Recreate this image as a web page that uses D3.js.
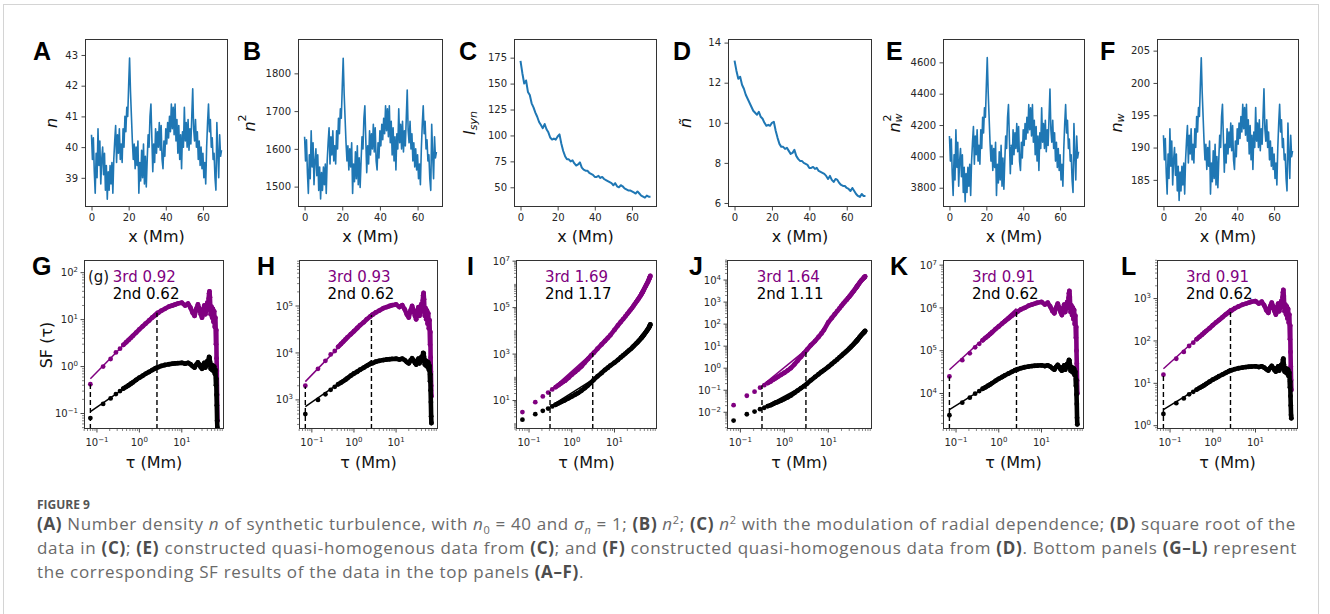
<!DOCTYPE html>
<html><head><meta charset="utf-8">
<script src="https://cdn.jsdelivr.net/npm/d3@7"></script>
<style>
body{margin:0;background:#fff;}
svg text{font-family:"DejaVu Sans",sans-serif;}
</style></head><body><svg id="c" width="1330" height="614"></svg>
<script>
// ---------------- DATA ----------------
const xStepNoisy = 0.5;   // Mm between samples of the noisy series
const xStepSmooth = 1.0;  // Mm between samples of the smooth series
const nA = [40.4,39.6,40.3,39.2,38.5,39.8,39.0,40.6,39.4,40.2,38.8,39.6,40.0,39.1,39.8,38.6,39.4,38.3,39.2,38.6,39.4,38.8,39.5,38.5,39.6,40.2,40.7,39.5,40.4,39.8,40.6,39.6,40.1,39.5,40.6,40.0,41.0,40.5,41.3,41.0,42.0,42.9,41.8,41.0,40.2,39.6,40.1,39.3,40.0,39.4,40.2,38.5,39.5,38.9,39.9,39.0,40.1,38.8,39.7,38.7,39.6,40.4,40.0,41.0,41.4,40.3,39.2,40.1,39.5,40.6,39.8,40.5,40.0,40.8,39.9,40.7,39.6,39.3,40.2,39.7,40.6,40.1,40.8,40.3,41.0,40.5,41.4,40.6,41.3,40.4,41.4,40.2,40.9,39.8,40.7,39.6,40.4,39.3,40.5,40.0,41.3,40.2,40.8,40.0,40.9,39.9,40.6,40.1,41.0,41.9,40.6,40.2,40.9,40.0,40.5,39.6,40.2,39.4,40.0,39.3,39.8,39.0,39.5,38.8,40.0,40.8,41.4,40.5,40.9,40.0,40.3,39.6,39.8,39.0,38.6,40.8,39.8,39.0,40.4,39.7,39.9];
const n2B = [1632,1568,1624,1537,1482,1584,1521,1648,1552,1616,1505,1568,1600,1529,1584,1490,1552,1467,1537,1490,1552,1505,1560,1482,1568,1616,1656,1560,1632,1584,1648,1568,1608,1560,1648,1600,1681,1640,1706,1681,1764,1840,1747,1681,1616,1568,1608,1544,1600,1552,1616,1482,1560,1513,1592,1521,1608,1505,1576,1498,1568,1632,1600,1681,1714,1624,1537,1608,1560,1648,1584,1640,1600,1665,1592,1656,1568,1544,1616,1576,1648,1608,1665,1624,1681,1640,1714,1648,1706,1632,1714,1616,1673,1584,1656,1568,1632,1544,1640,1600,1706,1616,1665,1600,1673,1592,1648,1608,1681,1756,1648,1616,1673,1600,1640,1568,1616,1552,1600,1544,1584,1521,1560,1505,1600,1665,1714,1640,1673,1600,1624,1568,1584,1521,1490,1665,1584,1521,1632,1576,1592];
const IsynC = [172,160,150,153,142,139,131,127,122,118,113,110,107,111,106,103,98,96,97,96,99,101,92,85,80,77,77,75,76,73,71,72,74,69,67,66,66,64,63,62,60,60,61,59,60,58,57,56,55,54,52,54,51,50,52,51,49,48,47,47,46,45,44,46,44,42,41,40,42,41,41];
const nTildeD = [13.1,12.6,12.2,12.3,11.9,11.7,11.4,11.2,11.0,10.8,10.6,10.5,10.4,10.55,10.3,10.2,10.0,9.85,9.9,9.85,10.0,10.05,9.6,9.25,8.95,8.8,8.8,8.7,8.75,8.6,8.45,8.5,8.65,8.35,8.2,8.1,8.1,8.0,7.95,7.9,7.75,7.75,7.8,7.7,7.75,7.6,7.55,7.5,7.45,7.35,7.2,7.35,7.15,7.05,7.2,7.15,7.0,6.9,6.85,6.85,6.75,6.7,6.6,6.75,6.6,6.45,6.35,6.3,6.45,6.35,6.35];
const nw2E = [4130,3970,4110,3890,3750,4010,3850,4170,3930,4090,3810,3970,4050,3870,4010,3770,3930,3710,3890,3770,3930,3810,3950,3750,3970,4090,4190,3950,4130,4010,4170,3970,4070,3950,4170,4050,4250,4150,4310,4250,4450,4630,4410,4250,4090,3970,4070,3910,4050,3930,4090,3750,3950,3830,4030,3850,4070,3810,3990,3790,3970,4130,4050,4250,4330,4110,3890,4070,3950,4170,4010,4150,4050,4210,4030,4190,3970,3910,4090,3990,4170,4070,4210,4110,4250,4150,4330,4170,4310,4130,4330,4090,4230,4010,4190,3970,4130,3910,4150,4050,4310,4090,4210,4050,4230,4030,4170,4070,4250,4430,4170,4090,4230,4050,4150,3970,4090,3930,4050,3910,4010,3850,3950,3810,4050,4210,4330,4150,4230,4050,4110,3970,4010,3850,3770,4210,4010,3850,4130,3990,4030];
const nwF = [191.9,188.1,191.4,186.2,182.8,189.0,185.2,192.9,187.1,191.0,184.2,188.1,190.0,185.7,189.0,183.3,187.1,181.8,186.2,183.3,187.1,184.2,187.6,182.8,188.1,191.0,193.4,187.6,191.9,189.0,192.9,188.1,190.5,187.6,192.9,190.0,194.8,192.4,196.2,194.8,199.6,203.9,198.6,194.8,191.0,188.1,190.5,186.6,190.0,187.1,191.0,182.8,187.6,184.7,189.5,185.2,190.5,184.2,188.6,183.8,188.1,191.9,190.0,194.8,196.7,191.4,186.2,190.5,187.6,192.9,189.0,192.4,190.0,193.8,189.5,193.4,188.1,186.6,191.0,188.6,192.9,190.5,193.8,191.4,194.8,192.4,196.7,192.9,196.2,191.9,196.7,191.0,194.3,189.0,193.4,188.1,191.9,186.6,192.4,190.0,196.2,191.0,193.8,190.0,194.3,189.5,192.9,190.5,194.8,199.1,192.9,191.0,194.3,190.0,192.4,188.1,191.0,187.1,190.0,186.6,189.0,185.2,187.6,184.2,190.0,193.8,196.7,192.4,194.3,190.0,191.4,188.1,189.0,185.2,183.3,193.8,189.0,185.2,191.9,188.6,189.5];

const xTicksTop = [0,20,40,60];
const yTicksA = [39,40,41,42,43];
const yTicksB = [1500,1600,1700,1800];
const yTicksC = [50,75,100,125,150,175];
const yTicksD = [6,8,10,12,14];
const yTicksE = [3800,4000,4200,4400,4600];
const yTicksF = [185,190,195,200,205];

// structure-function panels: lag tau (Mm) and SF values
const tauSF = [0.07,0.14,0.21,0.28,0.35,0.42,0.49,0.56,0.63,0.7,0.84,1.0,1.2,1.4,1.7,2.0,2.4,2.8,3.3,4,5,6,7,8,10,12,14,16,18,20,22,24,26,28,30,32,34,36,38,40,42,43,44,45,46,47,48,50,52,54,56,58,60,62,64,65,66,67,68,69];
const sfG3 = [0.42,1.0,1.45,2.0,2.4,2.9,3.3,3.7,4.1,4.5,5.3,6.2,7.2,8.2,9.6,11,12.5,14,15.5,17,19,20,21,22,23,20,22,18,14,12,17,21,17,13,11,16,20,13,17,23,17,28,36,40,30,19,13,19,11,17,9,15,7,11,3,6,1.5,0.8,0.25,0.07];
const sfG2 = [0.08,0.16,0.21,0.26,0.3,0.34,0.37,0.4,0.43,0.46,0.52,0.58,0.64,0.7,0.77,0.84,0.92,0.97,1.03,1.08,1.12,1.15,1.17,1.18,1.2,1.15,1.2,1.12,1.02,0.95,1.1,1.22,1.1,0.97,0.9,1.08,1.2,0.95,1.1,1.3,1.15,1.4,1.6,1.55,1.3,1.05,0.9,1.1,0.85,1.05,0.8,1.0,0.7,0.85,0.4,0.55,0.25,0.15,0.07,0.05];
const sfH3 = [2000,4600,6800,9300,11000,13500,15500,17500,19500,21500,25000,29000,34000,39000,45000,52000,59000,66000,73000,80000,90000,95000,100000,104000,108000,95000,104000,85000,66000,57000,80000,100000,80000,62000,52000,76000,95000,62000,80000,110000,80000,130000,170000,190000,140000,90000,62000,90000,52000,80000,42000,70000,33000,50000,15000,28000,8000,4000,2000,1200];
const sfH2 = [500,1000,1320,1640,1900,2150,2330,2520,2700,2900,3280,3650,4000,4400,4850,5300,5800,6100,6500,6800,7050,7250,7350,7450,7550,7250,7550,7050,6400,6000,6900,7700,6900,6100,5650,6800,7550,6000,6900,8200,7250,8800,10000,9800,8200,6600,5650,6900,5350,6600,5000,6300,4400,5350,2500,3500,1600,900,450,320];
const sfI3 = [3.2,8.5,15,22,30,38,46,55,64,72,95,130,170,215,300,420,620,850,1150,1700,2600,3700,5000,6500,11000,17000,24000,32000,42000,54000,67000,82000,98000,120000,145000,170000,200000,230000,270000,310000,360000,390000,420000,450000,480000,520000,560000,650000,750000,860000,980000,1100000,1250000,1420000,1620000,1750000,1880000,2000000,2150000,2300000];
const sfI2 = [1.5,2.6,3.6,4.5,5.6,6.6,7.6,8.6,9.6,10.5,12.5,15,18,21,27,34,45,58,80,110,155,210,260,320,430,560,720,880,1050,1250,1450,1650,1900,2200,2500,2800,3100,3500,3900,4300,4800,5000,5300,5600,5900,6200,6500,7200,7900,8700,9500,10500,11500,12500,14000,14800,15500,16500,17500,19000];
const sfJ3 = [0.021,0.056,0.086,0.13,0.17,0.21,0.25,0.3,0.35,0.4,0.5,0.62,0.8,1.0,1.5,2.2,3.3,4.8,7,11,17,26,38,55,120,190,280,390,520,680,860,1050,1250,1500,1750,2050,2400,2800,3200,3700,4200,4500,4800,5100,5400,5800,6100,6900,7700,8500,9300,10000,10800,11600,12400,12800,13200,13600,14000,14500];
const sfJ2 = [0.0042,0.0081,0.0107,0.0138,0.016,0.019,0.021,0.024,0.027,0.029,0.034,0.04,0.048,0.057,0.075,0.095,0.125,0.155,0.2,0.28,0.4,0.53,0.68,0.82,1.15,1.55,2.0,2.5,3.1,3.7,4.4,5.1,5.9,6.8,7.8,8.8,10,11.2,12.5,14,15.5,16.3,17.2,18,19,20,21,23.5,26,28.5,31,33.5,36,38.5,41,42.5,44,45.5,47,49];
const sfK3 = [25000,60000,87000,120000,145000,175000,200000,222000,246000,270000,320000,370000,430000,490000,570000,650000,740000,830000,920000,1000000,1130000,1200000,1260000,1320000,1380000,1200000,1320000,1080000,850000,750000,1020000,1260000,1020000,800000,680000,960000,1200000,800000,1020000,1380000,1020000,1700000,2200000,2500000,1800000,1150000,800000,1150000,680000,1020000,550000,900000,420000,660000,200000,360000,100000,50000,20000,10000];
const sfK2 = [3100,6100,8000,9900,11400,12900,14000,15200,16300,17500,19800,22000,24300,26600,29300,31900,35000,36900,39100,41000,42600,43700,44500,44800,45600,43700,45600,42600,38800,36100,41800,46400,41800,36900,34200,41000,45600,36100,41800,49400,43700,53200,60800,58900,49400,39900,34200,41800,32300,39900,30400,38000,26600,32300,15000,21000,9500,5700,2700,1900];
const sfL3 = [16,38,55,76,91,110,125,140,156,171,200,235,275,310,365,420,475,530,590,650,720,760,800,840,870,760,840,690,530,460,650,800,650,500,420,610,760,500,650,870,650,1060,1400,1600,1150,720,500,720,420,650,340,570,270,420,110,230,55,25,12,7];
const sfL2 = [1.9,3.4,4.4,5.5,6.3,7.1,7.8,8.4,9.0,9.7,10.9,12.2,13.4,14.7,16.2,17.6,19.3,20.4,21.6,22.7,23.5,24.2,24.6,24.8,25.2,24.2,25.2,23.5,21.4,20.0,23.1,25.6,23.1,20.4,18.9,22.7,25.2,20.0,23.1,27.3,24.2,29.4,36,38,28,22,18.9,23.1,17.9,22,16.8,21,14.7,17.9,8,11,5,3,1.8,1.5];

// fit ranges (tau) and fitted values at their ends
const fitTauEdge = [0.07, 2.6];
const fitTauMid = [0.31, 3.1];
const fitG3 = [0.55, 15.3], fitG2 = [0.11, 1.03];
const fitH3 = [2450, 70000], fitH2 = [720, 6800];
const fitI3 = [26, 1150],   fitI2 = [5.5, 80];
const fitJ3 = [0.16, 6.8],  fitJ2 = [0.015, 0.18];
const fitK3 = [36000, 960000], fitK2 = [4200, 39500];
const fitL3 = [22, 590],    fitL2 = [2.4, 22.6];
// top of the dashed markers (value of 3rd-order SF)
const dashG = [0.42, 14], dashH = [1920, 64000], dashI = [29, 1120];
const dashJ = [0.17, 6.7], dashK = [25000, 800000], dashL = [16, 490];

const exponents3 = ["3rd 0.92","3rd 0.93","3rd 1.69","3rd 1.64","3rd 0.91","3rd 0.91"];
const exponents2 = ["2nd 0.62","2nd 0.62","2nd 1.17","2nd 1.11","2nd 0.62","2nd 0.62"];
const xTicksSF = [-1, 0, 1];  // decades
const yTicksG = [-1,0,1,2], yTicksH = [3,4,5], yTicksI = [1,3,5,7];
const yTicksJ = [-2,-1,0,1,2,3,4], yTicksK = [4,5,6,7], yTicksL = [0,1,2,3];

// ---------------- DRAW ----------------
const svg = d3.select('#c');
svg.append('rect').attr('width',1330).attr('height',614).attr('fill','#fff');
svg.append('rect').attr('x',3.5).attr('y',4.5).attr('width',1315).attr('height',700)
  .attr('fill','none').attr('stroke','#d4d4d4').attr('stroke-width',1);

const BLUE = '#1f77b4', PURPLE = '#800080', FRAME = '#333';

function addParts(text, parts){
  parts.forEach(p=>{
    const ts = text.append('tspan').text(p.t);
    if(p.i) ts.attr('font-style','italic');
    if(p.b) ts.attr('font-weight','bold');
    if(p.fs) ts.attr('font-size',p.fs);
    if(p.bs !== undefined) ts.attr('baseline-shift',p.bs);
    if(p.dx) ts.attr('dx',p.dx);
    if(p.fill) ts.attr('fill',p.fill);
  });
}
function letter(t,x,y){
  svg.append('text').attr('x',x).attr('y',y).text(t)
    .style('font-family','"Liberation Sans",Arial,sans-serif').attr('font-weight','bold')
    .attr('font-size',25).attr('fill','#000');
}
function styleAxis(a){
  a.select('.domain').remove();
  a.selectAll('line').attr('stroke',FRAME).attr('stroke-width',0.9);
  a.selectAll('text').attr('font-size',10).attr('fill','#262626').style('font-family','"DejaVu Sans",sans-serif');
}

// top row
const TOP = 39, BOT = 207;
const xDomTop = [-3.5, 73.5];
const topCfg = [
  {L:'A', data:nA, step:xStepNoisy, left:85, w:143, dom:[38.05,43.52], ticks:yTicksA, lab:[{t:'n',i:1}], labX:52, letX:33, sw:1.6},
  {L:'B', data:n2B, step:xStepNoisy, left:298, w:145, dom:[1446,1891], ticks:yTicksB, lab:[{t:'n',i:1},{t:'2',fs:11,bs:7}], labX:250, letX:243, sw:1.6},
  {L:'C', data:IsynC, step:xStepSmooth, left:514, w:143, dom:[31,193], ticks:yTicksC, lab:[{t:'I',i:1},{t:'syn',i:1,fs:11,bs:-4}], labX:470, letX:459, sw:2},
  {L:'D', data:nTildeD, step:xStepSmooth, left:728, w:144, dom:[5.8,14.18], ticks:yTicksD, lab:[{t:'ñ',i:1}], labX:686, letX:673, sw:2},
  {L:'E', data:nw2E, step:xStepNoisy, left:943, w:142, dom:[3677,4749], ticks:yTicksE, lab:[{t:'n',i:1},{t:'w',i:1,fs:11,bs:-4},{t:'2',fs:11,bs:7,dx:-8}], labX:895, letX:886, sw:1.6},
  {L:'F', data:nwF, step:xStepNoisy, left:1157, w:142, dom:[180.8,206.8], ticks:yTicksF, lab:[{t:'n',i:1},{t:'w',i:1,fs:11,bs:-4}], labX:1117, letX:1100, sw:1.6}
];
topCfg.forEach(c=>{
  const x = d3.scaleLinear().domain(xDomTop).range([c.left, c.left+c.w]);
  const y = d3.scaleLinear().domain(c.dom).range([BOT, TOP]);
  const g = svg.append('g');
  const cid = 'clip'+c.L;
  g.append('clipPath').attr('id',cid).append('rect').attr('x',c.left).attr('y',TOP).attr('width',c.w).attr('height',BOT-TOP);
  g.append('path').datum(c.data).attr('clip-path',`url(#${cid})`)
    .attr('d', d3.line().x((d,i)=>x(i*c.step)).y(d=>y(d)))
    .attr('fill','none').attr('stroke',BLUE).attr('stroke-width',c.sw).attr('stroke-linejoin','round');
  g.append('rect').attr('x',c.left+0.5).attr('y',TOP+0.5).attr('width',c.w-1).attr('height',BOT-TOP-1)
    .attr('fill','none').attr('stroke',FRAME).attr('stroke-width',1);
  const ax = g.append('g').attr('transform',`translate(0,${BOT})`)
    .call(d3.axisBottom(x).tickValues(xTicksTop).tickSize(3.5).tickPadding(3.5).tickFormat(d3.format('d')));
  styleAxis(ax);
  const ay = g.append('g').attr('transform',`translate(${c.left},0)`)
    .call(d3.axisLeft(y).tickValues(c.ticks).tickSize(3.5).tickPadding(3.5).tickFormat(d3.format('d')));
  styleAxis(ay);
  g.append('text').attr('x',c.left+c.w/2).attr('y',242).attr('text-anchor','middle').attr('font-size',16).attr('fill','#111').text('x (Mm)');
  const yl = g.append('text').attr('transform',`translate(${c.labX},${(TOP+BOT)/2}) rotate(-90)`)
    .attr('text-anchor','middle').attr('dominant-baseline','middle').attr('font-size',16).attr('fill','#111');
  addParts(yl, c.lab);
  letter(c.L, c.letX, 60);
});

// bottom row
const STOP = 260, SBOT = 429;
const xDomSF = [Math.pow(10,-1.305), Math.pow(10,1.995)];
const botCfg = [
  {L:'G', left:84, w:140, yd:[-1.33,2.27], ticks:yTicksG, s3:sfG3, s2:sfG2, f3:fitG3, f2:fitG2, ft:fitTauEdge, dash:dashG, letX:32},
  {L:'H', left:299, w:139, yd:[2.38,5.98], ticks:yTicksH, s3:sfH3, s2:sfH2, f3:fitH3, f2:fitH2, ft:fitTauEdge, dash:dashH, letX:257},
  {L:'I', left:516, w:141, yd:[-0.225,7.05], ticks:yTicksI, s3:sfI3, s2:sfI2, f3:fitI3, f2:fitI2, ft:fitTauMid, dash:dashI, letX:467},
  {L:'J', left:727, w:145, yd:[-2.76,4.91], ticks:yTicksJ, s3:sfJ3, s2:sfJ2, f3:fitJ3, f2:fitJ2, ft:fitTauMid, dash:dashJ, letX:689},
  {L:'K', left:943, w:141, yd:[3.17,7.12], ticks:yTicksK, s3:sfK3, s2:sfK2, f3:fitK3, f2:fitK2, ft:fitTauEdge, dash:dashK, letX:890},
  {L:'L', left:1157, w:141, yd:[-0.078,3.91], ticks:yTicksL, s3:sfL3, s2:sfL2, f3:fitL3, f2:fitL2, ft:fitTauEdge, dash:dashL, letX:1121}
];
function supLabel(g, x, y, anchor, exp){
  const t = g.append('text').attr('x',x).attr('y',y).attr('text-anchor',anchor).attr('font-size',10).attr('fill','#262626');
  t.append('tspan').text('10');
  t.append('tspan').attr('font-size',7).attr('baseline-shift',4.5).text(String(exp).replace('-','\u2212'));
}
botCfg.forEach((c,k)=>{
  const x = d3.scaleLog().domain(xDomSF).range([c.left, c.left+c.w]);
  const y = d3.scaleLog().domain([Math.pow(10,c.yd[0]), Math.pow(10,c.yd[1])]).range([SBOT, STOP]);
  const g = svg.append('g');
  const cid = 'clip'+c.L;
  g.append('clipPath').attr('id',cid).append('rect').attr('x',c.left).attr('y',STOP).attr('width',c.w).attr('height',SBOT-STOP);
  const pg = g.append('g').attr('clip-path',`url(#${cid})`);
  [[c.s3,PURPLE],[c.s2,'#000']].forEach(([vals,col])=>{
    const pts = tauSF.map((t,i)=>[t, vals[i]]);
    const dense = pts.filter(p=>p[0] >= 0.42);
    pg.append('path').datum(dense)
      .attr('d', d3.line().x(p=>x(p[0])).y(p=>y(p[1])))
      .attr('fill','none').attr('stroke',col).attr('stroke-width',4.6)
      .attr('stroke-linejoin','round').attr('stroke-linecap','round');
    pg.selectAll(null).data(pts).enter().append('circle')
      .attr('cx',p=>x(p[0])).attr('cy',p=>y(p[1])).attr('r',2.4).attr('fill',col);
  });
  [[c.f3,PURPLE],[c.f2,'#000']].forEach(([f,col])=>{
    pg.append('line').attr('x1',x(c.ft[0])).attr('x2',x(c.ft[1])).attr('y1',y(f[0])).attr('y2',y(f[1]))
      .attr('stroke',col).attr('stroke-width',1.5);
  });
  c.dash.forEach((v,j)=>{
    pg.append('line').attr('x1',x(c.ft[j])).attr('x2',x(c.ft[j])).attr('y1',SBOT).attr('y2',y(v))
      .attr('stroke','#000').attr('stroke-width',1.4).attr('stroke-dasharray','5,3');
  });
  g.append('rect').attr('x',c.left+0.5).attr('y',STOP+0.5).attr('width',c.w-1).attr('height',SBOT-STOP-1)
    .attr('fill','none').attr('stroke',FRAME).attr('stroke-width',1);
  const tk = g.append('g').attr('stroke',FRAME);
  for(let d=-2; d<=2; d++){
    for(let m=1; m<=9; m++){
      const v = m*Math.pow(10,d);
      if(v < xDomSF[0] || v > xDomSF[1]) continue;
      const major = (m===1 && xTicksSF.includes(d));
      tk.append('line').attr('x1',x(v)).attr('x2',x(v)).attr('y1',SBOT).attr('y2',SBOT+(major?3.5:2)).attr('stroke-width',major?0.9:0.6);
    }
  }
  xTicksSF.forEach(d=> supLabel(g, x(Math.pow(10,d)), 446, 'middle', d));
  for(let d=Math.floor(c.yd[0]); d<=Math.ceil(c.yd[1]); d++){
    for(let m=1; m<=9; m++){
      const v = m*Math.pow(10,d);
      if(Math.log10(v) < c.yd[0] || Math.log10(v) > c.yd[1]) continue;
      const major = (m===1 && c.ticks.includes(d));
      tk.append('line').attr('x1',c.left).attr('x2',c.left-(major?3.5:2)).attr('y1',y(v)).attr('y2',y(v)).attr('stroke-width',major?0.9:0.6);
    }
  }
  c.ticks.forEach(d=> supLabel(g, c.left-6, y(Math.pow(10,d))+3.6, 'end', d));
  g.append('text').attr('x',c.left+c.w/2).attr('y',468).attr('text-anchor','middle').attr('font-size',16).attr('fill','#111').text('\u03c4 (Mm)');
  const tx = c.left + 0.205*c.w;
  g.append('text').attr('x',tx).attr('y',282).attr('font-size',15).attr('fill',PURPLE).text(exponents3[k]);
  g.append('text').attr('x',tx).attr('y',298.5).attr('font-size',15).attr('fill','#000').text(exponents2[k]);
  letter(c.L, c.letX, 275);
});
svg.append('text').attr('x',88).attr('y',282).attr('font-size',15).attr('fill','#111').text('(g)');
svg.append('text').attr('transform','translate(47,345) rotate(-90)').attr('text-anchor','middle')
  .attr('dominant-baseline','middle').attr('font-size',16).attr('fill','#111').text('SF (\u03c4)');

// caption
const capFont = '"Open Sans", Lato, sans-serif';
const CAPX = 37;
svg.append('text').attr('x',CAPX).attr('y',509).text('FIGURE 9').style('font-family',capFont)
  .attr('font-weight','bold').attr('font-size',12).attr('fill','#555');
const capLines = [
  {y:530, target:1259, parts:[{t:'(A)',b:1},{t:' Number density '},{t:'n',i:1},{t:' of synthetic turbulence, with '},{t:'n',i:1},{t:'0',fs:11,bs:-4},{t:' = 40 and '},{t:'σ',i:1},{t:'n',i:1,fs:11,bs:-4},{t:' = 1; '},{t:'(B)',b:1},{t:' '},{t:'n',i:1},{t:'2',fs:11,bs:6},{t:'; '},{t:'(C)',b:1},{t:' '},{t:'n',i:1},{t:'2',fs:11,bs:6},{t:' with the modulation of radial dependence; '},{t:'(D)',b:1},{t:' square root of the'}]},
  {y:554, target:1260, parts:[{t:'data in '},{t:'(C)',b:1},{t:'; '},{t:'(E)',b:1},{t:' constructed quasi-homogenous data from '},{t:'(C)',b:1},{t:'; and '},{t:'(F)',b:1},{t:' constructed quasi-homogenous data from '},{t:'(D)',b:1},{t:'. Bottom panels '},{t:'(G–L)',b:1},{t:' represent'}]},
  {y:578, target:null, parts:[{t:'the corresponding SF results of the data in the top panels '},{t:'(A–F)',b:1},{t:'.'}]}
];
let lsUsed = [];
capLines.forEach(l=>{
  const t = svg.append('text').attr('x',CAPX).attr('y',l.y).style('font-family',capFont)
    .attr('font-size',17).attr('fill','#6a6a6a');
  addParts(t, l.parts.map(p=> p.b ? Object.assign({fill:'#4d4d4d'},p) : p));
  l.node = t;
});
capLines.forEach(l=>{
  if(l.target){
    const w = l.node.node().getComputedTextLength();
    const n = l.node.text().length;
    const ls = (l.target - w)/n;
    lsUsed.push(ls);
    l.node.attr('letter-spacing', ls);
  }
});
const lsAvg = d3.mean(lsUsed);
capLines.forEach(l=>{ if(!l.target) l.node.attr('letter-spacing', lsAvg); });
</script></body></html>
